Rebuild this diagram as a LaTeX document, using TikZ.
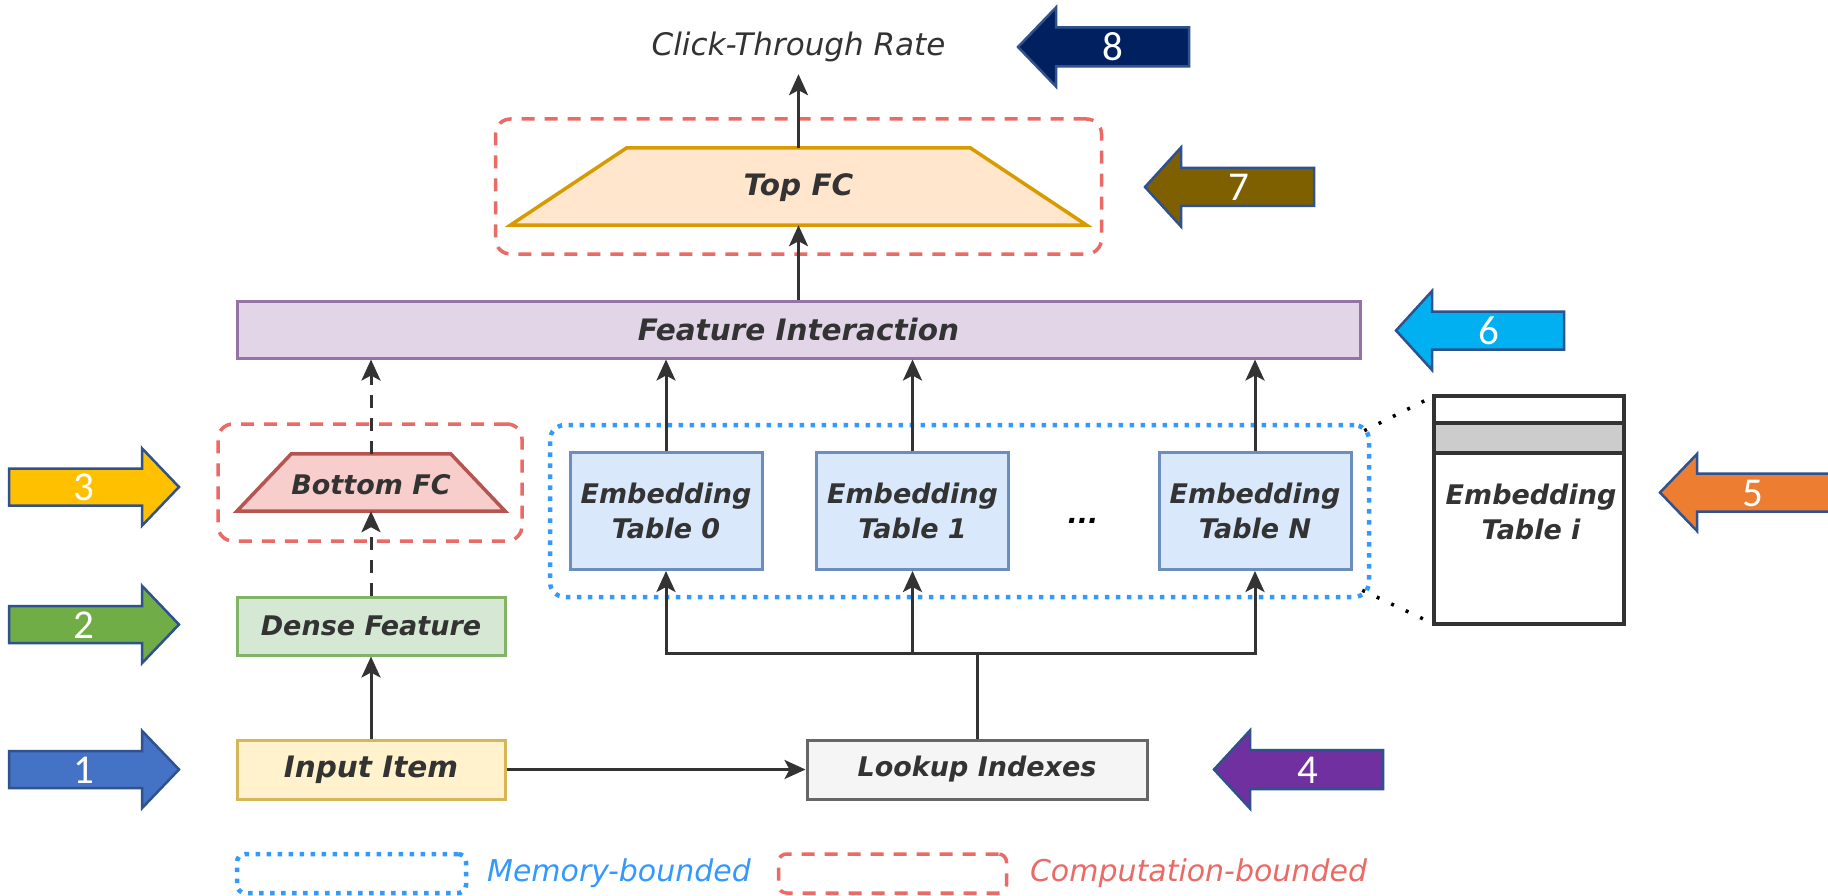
\documentclass[tikz,border=0pt]{standalone}
\usepackage{fontspec}
\setmainfont{DejaVu Sans}[BoldFont={DejaVu Sans Bold},ItalicFont={DejaVu Sans Oblique},BoldItalicFont={DejaVu Sans Bold Oblique}]
\newfontfamily\numfont{Carlito}
\usetikzlibrary{arrows.meta,calc}
\definecolor{txt}{HTML}{333333}
\definecolor{fiF}{HTML}{E1D5E7}\definecolor{fiD}{HTML}{9673A6}
\definecolor{topF}{HTML}{FFE6CC}\definecolor{topD}{HTML}{D79B00}
\definecolor{botF}{HTML}{F8CECC}\definecolor{botD}{HTML}{B85450}
\definecolor{denF}{HTML}{D5E8D4}\definecolor{denD}{HTML}{82B366}
\definecolor{inF}{HTML}{FFF2CC}\definecolor{inD}{HTML}{D6B656}
\definecolor{tabF}{HTML}{DAE8FC}\definecolor{tabD}{HTML}{6C8EBF}
\definecolor{lkF}{HTML}{F5F5F5}\definecolor{lkD}{HTML}{666666}
\definecolor{memC}{HTML}{3399FF}
\definecolor{compC}{HTML}{EA6B66}
\definecolor{arrO}{HTML}{2F528F}
\definecolor{rowG}{HTML}{CCCCCC}
\definecolor{a1}{HTML}{4472C4}\definecolor{a2}{HTML}{70AD47}\definecolor{a3}{HTML}{FFC000}
\definecolor{a4}{HTML}{7030A0}\definecolor{a5}{HTML}{ED7D31}\definecolor{a6}{HTML}{00B0F0}
\definecolor{a7}{HTML}{7F6000}\definecolor{a8}{HTML}{002060}
\newcommand\lblfont{\fontsize{27}{35}\selectfont\bfseries\itshape}
\newcommand\biglblfont{\fontsize{29.5}{35}\selectfont\bfseries\itshape}
\newcommand\blockarrow[7]{%
  \filldraw[barrow,fill=#7] ({#3},{#4-#5}) -- ({#2},{#4-#5}) -- ({#2},{#4-#6}) -- ({#1},{#4})
    -- ({#2},{#4+#6}) -- ({#2},{#4+#5}) -- ({#3},{#4+#5}) -- cycle;}
\tikzset{
  lbl/.style={font=\lblfont,text=txt,align=center,inner sep=0pt},
  biglbl/.style={font=\biglblfont},
  boxnode/.style={lbl,draw,line width=3pt},
  ghost/.style={lbl,draw=none},
  conn/.style={draw=txt,line width=3pt,-{Stealth[length=21pt,width=19pt,inset=5pt]}},
  dashconn/.style={conn,dash pattern=on 13pt off 10pt},
  compbox/.style={draw=compC,line width=3.5pt,dash pattern=on 13pt off 10pt,rounded corners=15pt,inner sep=0pt},
  membox/.style={draw=memC,line width=4.5pt,dash pattern=on 4.5pt off 6.5pt,rounded corners=15pt,inner sep=0pt},
  dotline/.style={draw=black,line width=3.5pt,dash pattern=on 3pt off 13pt},
  barrow/.style={draw=arrO,line width=2.5pt,line join=miter},
  numlbl/.style={font=\numfont\fontsize{41}{41}\selectfont,text=white,inner sep=0pt},
  legtext/.style={font=\fontsize{30}{36}\selectfont\itshape,inner sep=0pt},
  tabline/.style={draw=txt,line width=3.5pt},
}
\begin{document}
\begin{tikzpicture}[x=1pt,y=-1pt]
\useasboundingbox[fill=white] (0,0) rectangle (1828,896);

% block arrows
\blockarrow{179}{142}{9}{769.5}{18.5}{38.7}{a1}
\blockarrow{179}{142}{9}{624.5}{18.5}{38.7}{a2}
\blockarrow{179}{142}{9}{487}{18.5}{38.7}{a3}
\blockarrow{1214}{1250}{1383}{769.5}{19.5}{39}{a4}
\blockarrow{1660}{1697}{1845}{492.5}{19}{38.5}{a5}
\blockarrow{1396}{1432}{1564}{330.5}{19}{39.5}{a6}
\blockarrow{1145}{1181}{1314}{187}{19}{39.5}{a7}
\blockarrow{1018}{1056}{1189}{47}{19.5}{39.5}{a8}
\node[numlbl] (n1) at (84,770) {1};
\node[numlbl] (n2) at (84,625) {2};
\node[numlbl] (n3) at (84,487) {3};
\node[numlbl] (n4) at (1308,770) {4};
\node[numlbl] (n5) at (1753,493) {5};
\node[numlbl] (n6) at (1489,331) {6};
\node[numlbl] (n7) at (1239,187) {7};
\node[numlbl] (n8) at (1113,47) {8};

% groups
\node[compbox,minimum width=606pt,minimum height=135pt] (topgrp) at (798.5,186.5) {};
\node[compbox,minimum width=304pt,minimum height=117pt] (botgrp) at (370,482.5) {};
\node[membox,minimum width=819pt,minimum height=172pt] (mem) at (959.5,511) {};

% Top FC
\node[ghost,minimum width=343pt,minimum height=77pt] (topfc) at (798.5,186.5) {};
\filldraw[fill=topF,draw=topD,line width=3.5pt] (topfc.north west) -- (topfc.north east)
  -- ($(topfc.south east)+(116.5,0)$) -- ($(topfc.south west)+(-116.5,0)$) -- cycle;
\node[lbl,biglbl] (topfct) at (798.5,188) {Top FC};

% Bottom FC
\node[ghost,minimum width=159pt,minimum height=57pt] (bfc) at (371,482.5) {};
\filldraw[fill=botF,draw=botD,line width=3.5pt] (bfc.north west) -- (bfc.north east)
  -- ($(bfc.south east)+(54.5,0)$) -- ($(bfc.south west)+(-54.5,0)$) -- cycle;
\node[lbl] (bfct) at (371,485) {Bottom FC};

% boxes
\node[boxnode,biglbl,fill=fiF,draw=fiD,minimum width=1123pt,minimum height=57pt] (fi) at (798.5,329.5) {Feature Interaction};
\node[boxnode,fill=denF,draw=denD,minimum width=268pt,minimum height=58pt] (dense) at (371,626) {Dense Feature};
\node[boxnode,biglbl,fill=inF,draw=inD,minimum width=268pt,minimum height=59pt] (input) at (371,769.5) {Input Item};
\node[boxnode,fill=lkF,draw=lkD,minimum width=340pt,minimum height=59pt] (look) at (977,769.5) {Lookup Indexes};
\node[boxnode,fill=tabF,draw=tabD,minimum width=192pt,minimum height=117pt] (t0) at (666,511) {Embedding\\Table 0};
\node[boxnode,fill=tabF,draw=tabD,minimum width=192pt,minimum height=117pt] (t1) at (912.5,511) {Embedding\\Table 1};
\node[boxnode,fill=tabF,draw=tabD,minimum width=192pt,minimum height=117pt] (tN) at (1255,511) {Embedding\\Table N};
\node[lbl,text=black,anchor=base] (dots) at (1083,523) {...};

% Embedding Table i
\node[fill=white,outer sep=0pt,minimum width=190pt,minimum height=228pt,inner sep=0pt] (tabi) at (1529,510) {};
\fill[rowG] ($(tabi.north west)+(0,27)$) rectangle ($(tabi.north east)+(0,57)$);
\draw[tabline] ($(tabi.north west)+(0,27)$) -- ($(tabi.north east)+(0,27)$);
\draw[tabline] ($(tabi.north west)+(0,57)$) -- ($(tabi.north east)+(0,57)$);
\draw[tabline] (tabi.north west) rectangle (tabi.south east);
\node[lbl] (tabit) at (1531,512) {Embedding\\Table i};
\draw[dotline] ($(mem.north east)+(-7,8)$) -- (tabi.north west);
\draw[dotline] ($(mem.south east)+(-9,-9)$) -- (tabi.south west);

% CTR
\node[font=\fontsize{31}{36}\selectfont\itshape,text=txt,inner sep=0pt,minimum height=54pt] (ctr) at (798.5,47) {Click-Through Rate};

% connectors
\coordinate (br) at (977,653);
\draw[conn] (input.north) -- (dense.south);
\draw[dashconn] (dense.north) -- (bfc.south);
\draw[dashconn] (bfc.north) -- (bfc.north |- fi.south);
\draw[conn] (t0.north) -- (t0.north |- fi.south);
\draw[conn] (t1.north) -- (t1.north |- fi.south);
\draw[conn] (tN.north) -- (tN.north |- fi.south);
\draw[conn] (fi.north) -- (topfc.south);
\draw[conn] (topfc.north) -- (ctr.south);
\draw[conn] (input.east) -- (look.west);
\draw[conn] (look.north) -- (br) -| (t0.south);
\draw[conn] (br) -| (tN.south);
\draw[conn] (br -| t1.south) -- (t1.south);

% legend
\node[membox,rounded corners=8pt,minimum width=229pt,minimum height=39pt] (legm) at (351.5,873.5) {};
\node[legtext,text=memC] (legmt) at (619,873) {Memory-bounded};
\node[compbox,rounded corners=8pt,minimum width=228pt,minimum height=39pt] (legc) at (892.5,873.5) {};
\node[legtext,text=compC] (legct) at (1198.5,873) {Computation-bounded};
\end{tikzpicture}
\end{document}
